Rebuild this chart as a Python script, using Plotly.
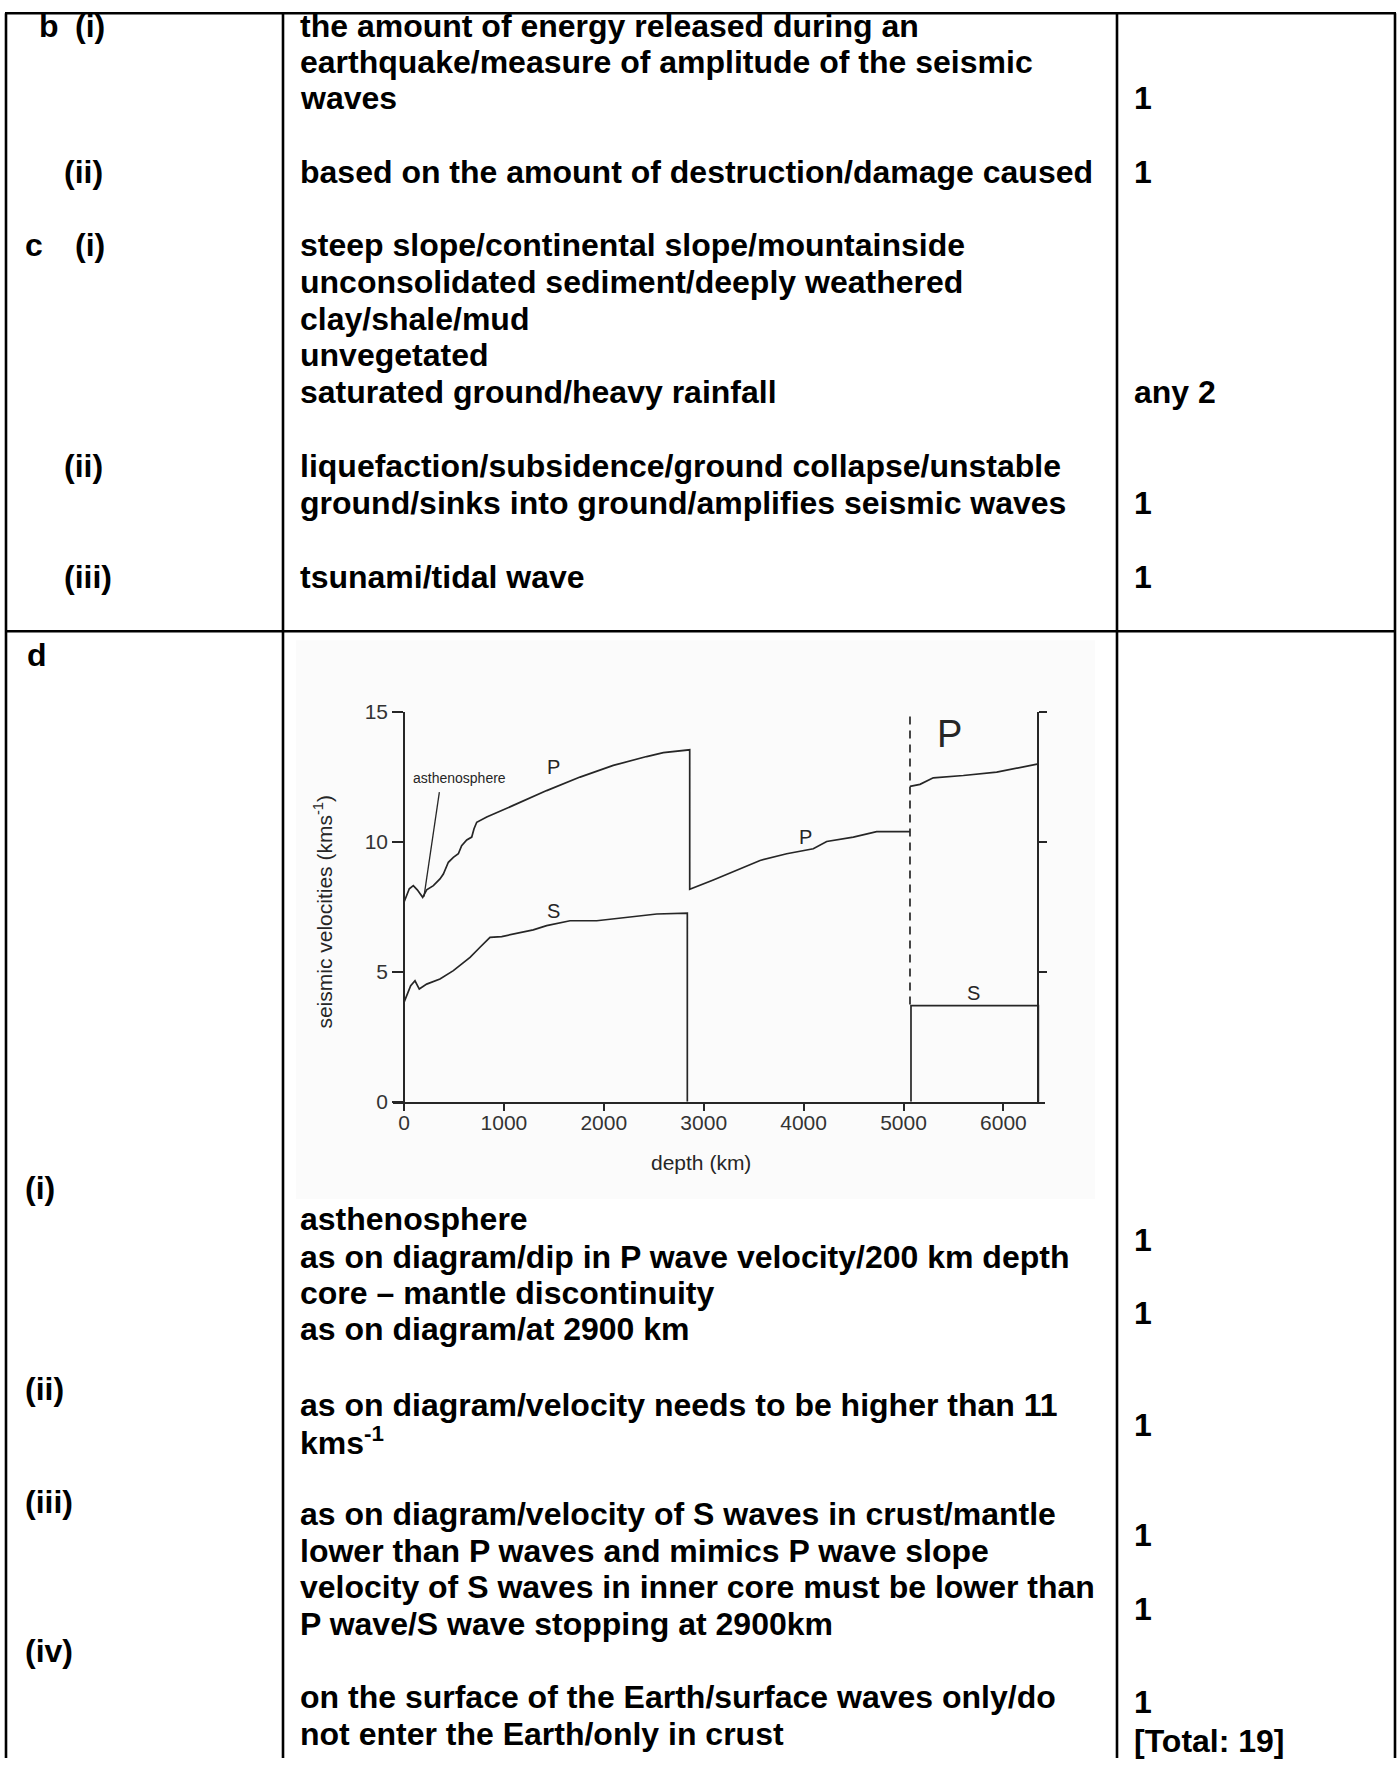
import plotly.graph_objects as go

W, H = 1400, 1769

# ---------------- chart data ----------------
p_depth = [0, 53, 93, 133, 187, 227, 294, 360, 394, 444, 494, 544, 577, 628, 678, 701, 728, 828,
           1094, 1428, 1762, 2095, 2429, 2596, 2860, 2860, 3096, 3330, 3564, 3831, 4097, 4231, 4498,
           4731, 5065, None, 5065, 5165, 5298, 5599, 5933, 6350]
p_vel = [7.68, 8.20, 8.32, 8.16, 7.87, 8.16, 8.32, 8.58, 8.77, 9.22, 9.41, 9.55, 9.86, 10.08, 10.19,
         10.51, 10.76, 10.96, 11.41, 11.98, 12.50, 12.95, 13.29, 13.44, 13.55, 8.18, 8.54, 8.90, 9.29,
         9.55, 9.74, 10.02, 10.19, 10.40, 10.40, None, 12.14, 12.22, 12.47, 12.56, 12.69, 13.01]

s_depth = [0, 67, 110, 153, 227, 360, 494, 661, 761, 861, 978, 1294, 1428, 1662, 1929, 2263, 2530,
           2836, 2836, None, 5075, 5075, 6350, 6350]
s_vel = [3.83, 4.47, 4.66, 4.34, 4.53, 4.73, 5.05, 5.56, 5.95, 6.33, 6.36, 6.62, 6.78, 6.97, 6.97,
         7.10, 7.23, 7.26, 0, None, 0, 3.70, 3.70, 0]

disc_depth = [5065, 5065]
disc_vel = [3.75, 14.95]

astheno_ptr_depth = [354, 200]
astheno_ptr_vel = [11.92, 7.90]

x_ticks = [0, 1000, 2000, 3000, 4000, 5000, 6000]
y_ticks = [0, 5, 10, 15]
right_ticks = [5, 10, 15]
x_range = [-110, 6416]
y_range = [0, 15]
right_axis_depth = 6350

# chart labels (text, depth, velocity)
chart_labels = [
    ("P", 1494, 12.88), ("P", 4014, 10.19), ("S", 1494, 7.33), ("S", 5699, 4.17),
]
big_p = ("P", 5465, 14.14)
astheno_label = ("asthenosphere", 553, 12.47)
title_cmb = ("core - mantle boundary", 2795, 16.88)
title_icb = [("inner core - outer", 4194, 16.88), ("core discontinuity", 4194, 15.84)]

# ---------------- document text ----------------
col1_text = ["b", "(i)", "(ii)", "c", "(i)", "(ii)", "(iii)", "d", "(i)", "(ii)", "(iii)", "(iv)"]
col2_text = [
    "the amount of energy released during an",
    "earthquake/measure of amplitude of the seismic",
    "waves",
    "based on the amount of destruction/damage caused",
    "steep slope/continental slope/mountainside",
    "unconsolidated sediment/deeply weathered",
    "clay/shale/mud",
    "unvegetated",
    "saturated ground/heavy rainfall",
    "liquefaction/subsidence/ground collapse/unstable",
    "ground/sinks into ground/amplifies seismic waves",
    "tsunami/tidal wave",
    "asthenosphere",
    "as on diagram/dip in P wave velocity/200 km depth",
    "core \u2013 mantle discontinuity",
    "as on diagram/at 2900 km",
    "as on diagram/velocity needs to be higher than 11",
    "kms<sup>-1</sup>",
    "as on diagram/velocity of S waves in crust/mantle",
    "lower than P waves and mimics P wave slope",
    "velocity of S waves in inner core must be lower than",
    "P wave/S wave stopping at 2900km",
    "on the surface of the Earth/surface waves only/do",
    "not enter the Earth/only in crust",
]
col3_text = ["1", "1", "any 2", "1", "1", "1", "1", "1", "1", "1", "1", "[Total: 19]"]

# ---------------- layout positions (target pixels in the picture) ----------------
col1_pos = [(37, 26.0), (73, 26.0), (62, 172.6), (22.6, 244.8), (73, 244.8), (62, 465.9),
            (62, 576.5), (24.8, 654.3), (22.6, 1186.8), (22.6, 1387.6), (22.6, 1500.4), (22.6, 1649.3)]
col2_x = 297.8
col2_y = [26.0, 62, 98.1, 172.6, 244.8, 282, 319.3, 355.4, 391.5, 465.9, 503.1, 576.5,
          1218.3, 1255.6, 1291.7, 1327.8, 1403.4, 1439.5, 1512.8, 1550, 1586.1, 1622.2, 1695.6, 1732.8]
col3_x = 1131.5
col3_y = [98.1, 172.6, 391.5, 503.1, 576.5, 1238.7, 1312, 1423.7, 1534.2, 1607.6, 1701, 1739]

X0, KX = 404.0, 0.0999   # picture pixel of depth 0, px per km
Y0, KY = 1101.0, 25.95   # picture pixel of velocity 0, px per km/s

# the captured picture maps figure row y to 12.4 + 0.9859*y; compensate for it
CAP_OFF, CAP_SCALE = 12.4, 0.9859


def px(x):
    return x / W


def py(y):
    yy = (y - CAP_OFF) / CAP_SCALE
    yy = min(max(yy, 0.0), H)
    return 1 - yy / H


FONT = "Liberation Sans, Arial, sans-serif"
INK = "#262626"

fig = go.Figure()

line_style = dict(color=INK, width=1.7)
fig.add_trace(go.Scatter(x=p_depth, y=p_vel, mode="lines", line=line_style,
                         connectgaps=False, hoverinfo="skip", showlegend=False))
fig.add_trace(go.Scatter(x=s_depth, y=s_vel, mode="lines", line=line_style,
                         connectgaps=False, hoverinfo="skip", showlegend=False))
fig.add_trace(go.Scatter(x=disc_depth, y=disc_vel, mode="lines",
                         line=dict(color=INK, width=1.7, dash="8px,6px"),
                         hoverinfo="skip", showlegend=False))
fig.add_trace(go.Scatter(x=astheno_ptr_depth, y=astheno_ptr_vel, mode="lines",
                         line=dict(color=INK, width=1.3), hoverinfo="skip", showlegend=False))
# anchor trace for right-hand axis
fig.add_trace(go.Scatter(x=[right_axis_depth], y=[0], mode="lines", yaxis="y2",
                         hoverinfo="skip", showlegend=False, line=dict(color=INK)))

x_dom = [(X0 + x_range[0] * KX) / W, (X0 + x_range[1] * KX) / W]
y_dom = [py(Y0 - y_range[0] * KY), py(Y0 - y_range[1] * KY)]

tickfont = dict(family=FONT, size=21, color="#333333")

annotations = []
for t, (x, y) in zip(col1_text, col1_pos):
    annotations.append(dict(x=px(x), y=py(y), xref="paper", yref="paper", text=f"<b>{t}</b>",
                            showarrow=False, xanchor="left", yanchor="middle",
                            font=dict(family=FONT, size=32, color="black")))
for t, y in zip(col2_text, col2_y):
    annotations.append(dict(x=px(col2_x), y=py(y), xref="paper", yref="paper", text=f"<b>{t}</b>",
                            showarrow=False, xanchor="left", yanchor="middle",
                            font=dict(family=FONT, size=32, color="black")))
for t, y in zip(col3_text, col3_y):
    annotations.append(dict(x=px(col3_x), y=py(y), xref="paper", yref="paper", text=f"<b>{t}</b>",
                            showarrow=False, xanchor="left", yanchor="middle",
                            font=dict(family=FONT, size=32, color="black")))

# chart annotations
for t, d, v in chart_labels:
    annotations.append(dict(x=d, y=v, xref="x", yref="y", text=t, showarrow=False,
                            xanchor="center", yanchor="middle",
                            font=dict(family=FONT, size=20, color=INK)))
annotations.append(dict(x=big_p[1], y=big_p[2], xref="x", yref="y", text=big_p[0], showarrow=False,
                        xanchor="center", yanchor="middle",
                        font=dict(family=FONT, size=38, color=INK)))
annotations.append(dict(x=astheno_label[1], y=astheno_label[2], xref="x", yref="y",
                        text=astheno_label[0], showarrow=False, xanchor="center", yanchor="middle",
                        font=dict(family=FONT, size=14, color=INK)))
annotations.append(dict(x=title_cmb[1], y=title_cmb[2], xref="x", yref="y", text=title_cmb[0],
                        showarrow=False, xanchor="center", yanchor="middle",
                        font=dict(family=FONT, size=22, color=INK)))
for t, d, v in title_icb:
    annotations.append(dict(x=d, y=v, xref="x", yref="y", text=t, showarrow=False, xanchor="left",
                            yanchor="middle", font=dict(family=FONT, size=22, color=INK)))
annotations.append(dict(x=px(701), y=py(1162), xref="paper", yref="paper", text="depth (km)",
                        showarrow=False, xanchor="center", yanchor="middle",
                        font=dict(family=FONT, size=21, color=INK)))
annotations.append(dict(x=px(323), y=py(911), xref="paper", yref="paper",
                        text="seismic velocities (kms<sup>-1</sup>)", textangle=-90,
                        showarrow=False, xanchor="center", yanchor="middle",
                        font=dict(family=FONT, size=21, color=INK)))

shapes = []
# chart image background
shapes.append(dict(type="rect", xref="paper", yref="paper", x0=px(296), x1=px(1095),
                   y0=py(640), y1=py(1198), fillcolor="#fbfbfb", line=dict(width=0), layer="below"))
# table lines
lw = 2.6
shapes.append(dict(type="line", xref="paper", yref="paper", x0=px(5), x1=px(1396),
                   y0=1 - 1.3 / H, y1=1 - 1.3 / H, line=dict(color="black", width=lw)))
shapes.append(dict(type="line", xref="paper", yref="paper", x0=px(5), x1=px(1396),
                   y0=py(631), y1=py(631), line=dict(color="black", width=lw)))
for xv in [6, 283, 1117, 1395]:
    shapes.append(dict(type="line", xref="paper", yref="paper", x0=px(xv), x1=px(xv),
                       y0=0, y1=1 - 1.3 / H, line=dict(color="black", width=lw)))

fig.update_layout(
    width=W, height=H, margin=dict(l=0, r=0, t=0, b=0),
    paper_bgcolor="white", plot_bgcolor="rgba(0,0,0,0)",
    showlegend=False, hovermode=False,
    xaxis=dict(domain=x_dom, range=x_range, tickvals=x_ticks, ticks="outside", ticklen=7,
               tickwidth=1.5, tickcolor=INK, showline=True, linecolor=INK, linewidth=1.6,
               showgrid=False, zeroline=False, tickfont=tickfont, anchor="y", fixedrange=True,
               ticklabelstandoff=-6),
    yaxis=dict(domain=y_dom, range=y_range, tickvals=y_ticks, ticks="outside", ticklen=11,
               tickwidth=1.5, tickcolor=INK, showline=True, linecolor=INK, linewidth=1.6,
               showgrid=False, zeroline=False, tickfont=tickfont, anchor="free",
               position=X0 / W, fixedrange=True),
    yaxis2=dict(domain=y_dom, range=y_range, overlaying="y", side="right", anchor="free",
                position=(X0 + right_axis_depth * KX) / W, tickvals=right_ticks, ticks="outside",
                ticklen=8, tickwidth=1.5, tickcolor=INK, showticklabels=False, showline=True,
                linecolor=INK, linewidth=1.6, showgrid=False, zeroline=False, fixedrange=True),
    annotations=annotations,
    shapes=shapes,
)

page_fix = (
    "var gd=document.getElementById('{plot_id}');"
    "gd.style.position='fixed';gd.style.top='0px';gd.style.left='0px';"
    "document.documentElement.style.margin='0';document.documentElement.style.padding='0';"
    "document.documentElement.style.overflow='hidden';"
    "document.body.style.margin='0';document.body.style.padding='0';"
    "document.body.style.overflow='hidden';"
)

fig.write_html("out.html", config={"displayModeBar": False}, post_script=page_fix)
